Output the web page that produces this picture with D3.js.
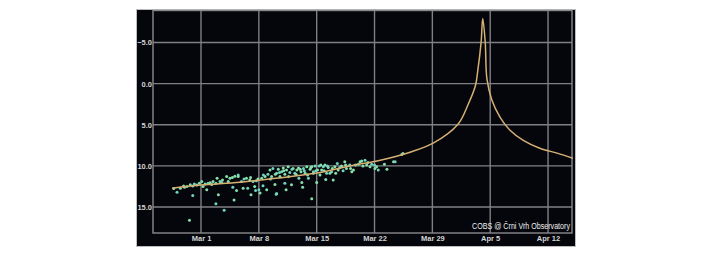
<!DOCTYPE html>
<html><head><meta charset="utf-8">
<script src="https://cdn.jsdelivr.net/npm/d3@7"></script>
<style>html,body{margin:0;padding:0;background:#fff}svg{display:block}</style>
</head><body><svg id="c" width="720" height="260"></svg>
<script>
// days since Mar 1 (2024, UTC) and magnitude of the model light curve
const curveDay = [-3.5, 0, 4.7, 9.0, 13.8, 18.0, 21.7, 25.3, 28.1, 31.1, 32.3, 33.2, 33.5, 33.9, 34.1, 34.4, 34.6, 35.2, 36.2, 37.4, 39.0, 41.0, 43.1, 45.0];
const curveMag = [12.7, 12.33, 11.97, 11.5, 10.9, 10.0, 9.3, 8.33, 7.24, 4.94, 2.6, 0.3, -1.6, -5.0, -7.9, -5.0, -0.6, 2.0, 4.1, 5.67, 6.9, 7.85, 8.45, 9.06];
// observations: days since Mar 1, magnitude
const obsDay = [-2.9,-2.5,-2.1,-1.7,-1.3,-1.0,-1.0,-0.5,-0.2,0.1,0.25,0.7,0.85,1.1,1.45,1.8,1.95,2.1,1.8,2.3,2.6,2.8,3.1,3.5,3.85,4.0,4.1,4.5,-1.4,
 4.5,4.9,5.1,5.5,5.65,5.9,6.05,6.3,6.5,6.7,7.0,7.15,7.35,7.55,7.75,7.95,8.1,8.35,8.55,8.7,8.95,9.1,9.15,9.35,9.55,9.75,9.95,10.15,10.15,10.35,10.55,10.75,10.95,11.15,11.35,11.6,11.8,11.85,12.1,12.2,12.4,12.6,12.8,13.0,13.2,13.4,13.6,
 13.4,13.6,13.8,14.0,14.1,14.3,14.4,14.6,14.8,15.0,15.1,15.2,15.4,15.6,15.8,16.0,16.2,16.5,16.6,17.0,17.2,17.4,17.6,18.0,18.25,18.45,19.05,19.25,19.45,19.85,20.05,20.45,20.65,21.05,21.25,21.45,22.5,23.3,23.5,24.3,24.45,9.15,
 -3.3,-2.0,-0.8,0.5,1.3,2.5,3.3,3.8,5.2,6.0,6.9,7.5,8.4,9.0,9.5,10.0,10.6,11.0,11.5,12.0,12.5,12.9,13.3,13.9,14.5,14.9,15.3,15.9,16.3,16.8,17.5,18.1,18.7,19.6,20.2,21.0,22.2,12.3,6.6,10.3,4.3];
const obsMag = [13.2,12.7,12.45,12.5,12.3,12.45,13.6,12.33,12.1,11.9,12.5,12.9,12.1,12.05,11.9,12.1,11.5,13.5,14.6,11.9,11.7,15.4,11.3,11.5,12.6,14.15,11.25,11.1,16.6,
 11.3,11.9,12.7,11.5,12.7,11.7,13.5,11.9,12.5,11.8,12.9,13.3,11.5,11.1,11.3,12.9,11.0,10.5,11.3,10.3,12.25,13.45,10.9,10.4,11.3,10.7,10.25,11.0,12.1,10.5,10.1,10.8,12.3,10.3,10.9,10.5,10.25,11.5,10.7,12.0,10.3,10.9,10.1,11.5,10.4,14.0,10.7,
 10.1,10.9,10.0,12.0,10.5,10.0,11.1,10.5,10.1,9.9,11.65,10.9,10.2,10.9,10.7,11.7,10.1,9.7,10.5,10.0,10.6,9.5,10.3,9.9,10.7,10.5,9.8,9.5,9.4,9.3,9.9,10.1,9.8,10.3,10.1,10.5,10.4,9.5,9.5,8.6,8.5,13.35,
 12.75,12.6,12.2,12.2,12.25,12.0,11.9,11.4,11.6,11.4,11.6,12.4,11.6,11.0,10.8,10.6,11.3,10.4,11.0,10.4,10.6,11.1,10.2,10.6,9.9,10.6,10.0,10.3,10.9,10.2,9.9,10.3,9.9,10.0,9.6,9.9,9.8,12.6,13.0,12.9,13.0];
const xTickDays = [0, 7, 14, 21, 28, 35, 42];
const yTicks = [-5, 0, 5, 10, 15];
const credit = "COBS @ Črni Vrh Observatory";

const base = Date.UTC(2024, 2, 1);
const toDate = d => new Date(base + d * 864e5);

const svg = d3.select("#c");
const L = 153, R = 572, T = 10.5, B = 233;
const x = d3.scaleUtc().domain([toDate(-5.81), toDate(44.9)]).range([L, R]);
const y = d3.scaleLinear().domain([-8.88, 18.15]).range([T, B]);

// figure background
svg.append("rect").attr("x", 136.5).attr("y", 9.5).attr("width", 439).attr("height", 237)
  .attr("fill", "#04060c").attr("stroke", "#bdbdbd").attr("stroke-width", 1);

// grid
const grid = svg.append("g").attr("stroke", "#808083").attr("stroke-width", 1.4);
xTickDays.forEach(d => grid.append("line").attr("x1", x(toDate(d))).attr("x2", x(toDate(d))).attr("y1", T).attr("y2", B));
yTicks.forEach(v => grid.append("line").attr("x1", L).attr("x2", R).attr("y1", y(v)).attr("y2", y(v)));
svg.append("rect").attr("x", L).attr("y", T).attr("width", R - L).attr("height", B - T)
  .attr("fill", "none").attr("stroke", "#8a8a8d").attr("stroke-width", 1.4);

// axes labels
const xAxis = d3.axisBottom(x).tickValues(xTickDays.map(toDate)).tickFormat(d3.utcFormat("%b %-d")).tickSize(0).tickPadding(3);
const gx = svg.append("g").attr("transform", `translate(0,${B})`).call(xAxis);
const yAxis = d3.axisLeft(y).tickValues(yTicks).tickFormat(d3.format(".1f")).tickSize(0).tickPadding(1);
const gy = svg.append("g").attr("transform", `translate(${L},0)`).call(yAxis);
[gx, gy].forEach(g => {
  g.select(".domain").remove();
  g.selectAll("text").attr("fill", "#d4d4d4").attr("font-family", "Liberation Sans, Arial, sans-serif")
    .attr("font-size", 7.5).attr("font-weight", "bold");
});

// observations
svg.append("g").selectAll("circle").data(obsDay.map((d, i) => [d, obsMag[i]])).join("circle")
  .attr("cx", p => x(toDate(p[0]))).attr("cy", p => y(p[1])).attr("r", 1.5)
  .attr("fill", (p, i) => i % 3 === 0 ? "#6fd4c0" : "#86dfa8");

// model curve
const line = d3.line().x(p => x(toDate(p[0]))).y(p => y(p[1])).curve(d3.curveCatmullRom.alpha(0.5));
svg.append("path").datum(curveDay.map((d, i) => [d, curveMag[i]]))
  .attr("d", line).attr("fill", "none").attr("stroke", "#d6b073").attr("stroke-width", 1.5);

// credit
svg.append("text").attr("x", 570).attr("y", 229).attr("text-anchor", "end")
  .attr("fill", "#f0f0f0").attr("font-family", "Liberation Sans, Arial, sans-serif")
  .attr("font-size", 8.5).attr("textLength", 98).attr("lengthAdjust", "spacingAndGlyphs").text(credit);
</script></body></html>
